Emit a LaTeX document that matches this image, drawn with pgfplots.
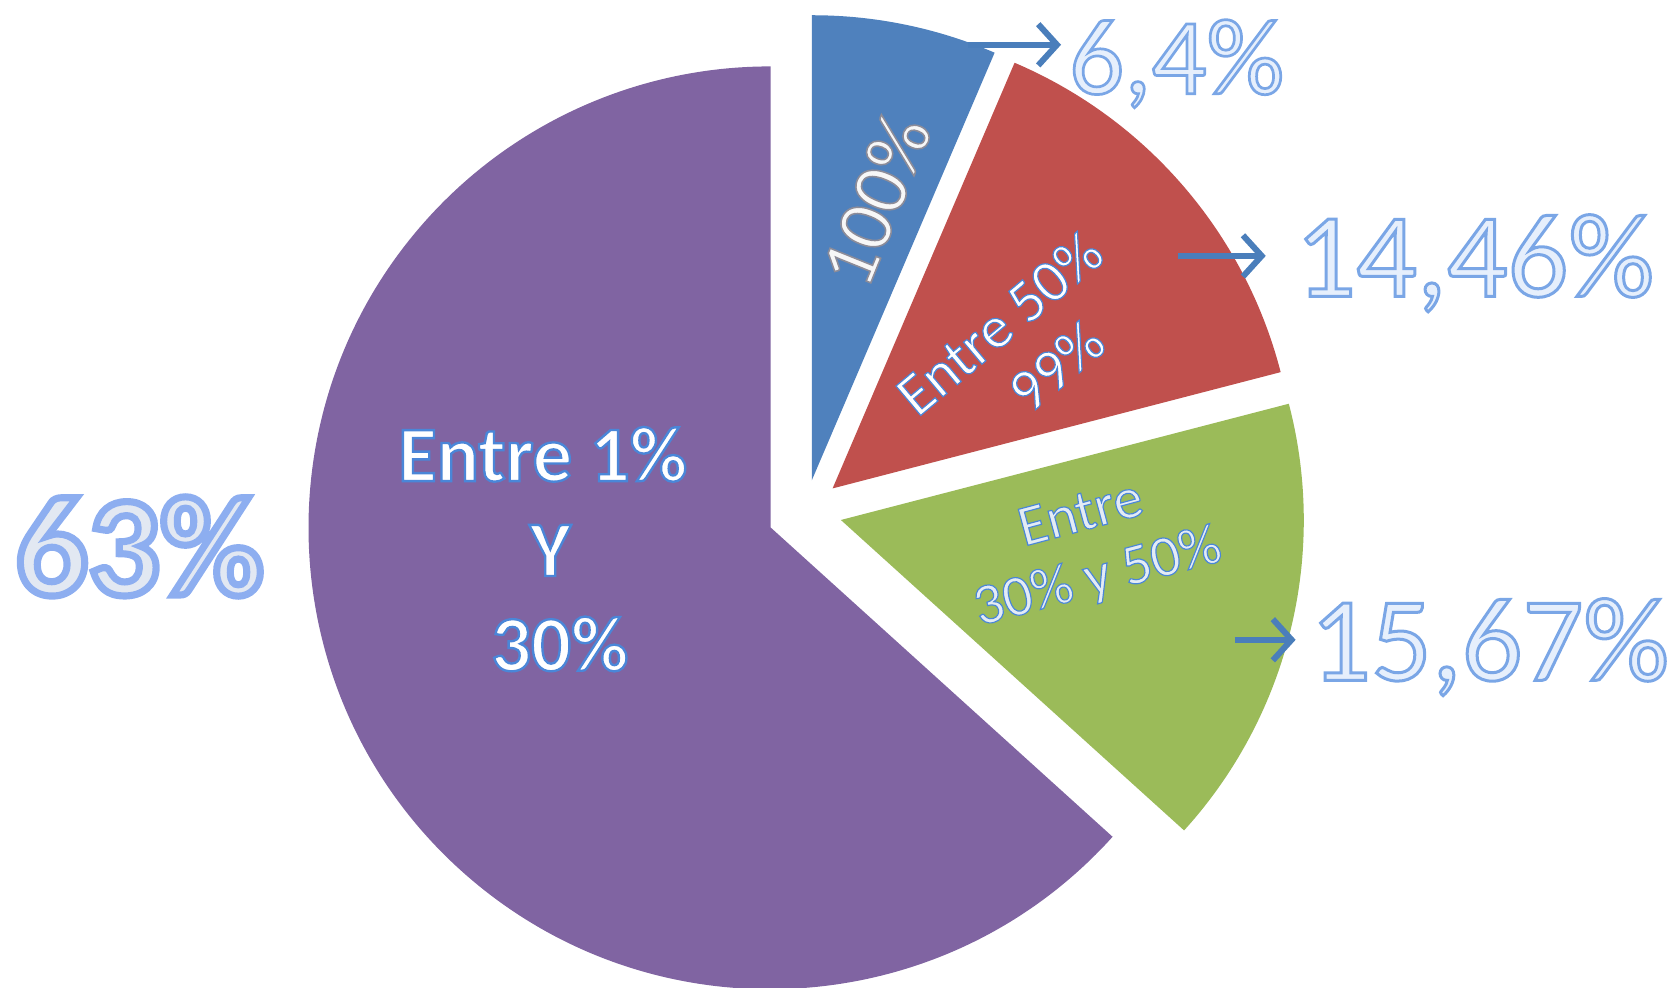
\documentclass[border=0pt]{standalone}
\usepackage{pgfplots}
\pgfplotsset{compat=1.18}
\usepackage{pgfplotstable}
\usetikzlibrary{arrows.meta}
\usepackage{fontspec}
\setmainfont{Carlito}

\definecolor{secblue}{HTML}{4F81BD}
\definecolor{secred}{HTML}{C0504D}
\definecolor{secgreen}{HTML}{9BBB59}
\definecolor{secpurple}{HTML}{8064A2}
\definecolor{arrowblue}{HTML}{4A7EBB}
\definecolor{bigfill}{HTML}{E6EFFC}
\definecolor{grfill}{HTML}{E2E8F2}

% sector: apex position (explode offset), value, cumulated value before it, colour index
\pgfplotstableread{
cx  cy  val   cum   cid
762 479 6.40  0.00  0
782 469 14.46 6.40  1
790 438 15.67 20.86 2
722 431 63.00 36.53 3
}\sectors
% degrees per percent, the four values sum to 99.53
\def\pieunit{3.617}

% outlined text: fill in the current colour, stroke in rgb #1, stroke amount #2
\newcommand\olt[3]{{\addfontfeature{FakeBold=#2}\special{pdf:code #1 RG}#3}}

\pgfplotsset{canvas/.style={
    at={(0,0)}, anchor=south west,
    scale only axis,
    width=15.68cm, height=9.26cm,
    xmin=0, xmax=1568, ymin=0, ymax=926,
    hide axis, clip=false}}

\begin{document}
\begin{tikzpicture}
\path[use as bounding box] (0,0) rectangle (15.68cm,9.26cm);
\clip (0,0) rectangle (15.68cm,9.26cm);
\begin{axis}[canvas]
\addplot[scatter, only marks, mark=*, mark size=0pt,
    visualization depends on={\thisrow{val} \as \secval},
    visualization depends on={\thisrow{cum} \as \seccum},
    visualization depends on={\thisrow{cid} \as \seccid},
    scatter/@pre marker code/.code={%
        \pgfmathsetmacro\sa{90-\seccum*\pieunit}%
        \pgfmathsetmacro\se{90-(\seccum+\secval)*\pieunit}%
        \pgfmathtruncatemacro\ci{\seccid}%
        \ifcase\ci \def\sc{secblue}\or \def\sc{secred}\or \def\sc{secgreen}\else \def\sc{secpurple}\fi
        \fill[\sc] (0,0) -- (\sa:4.32cm) arc[start angle=\sa, end angle=\se, radius=4.32cm] -- cycle;
        \scope[opacity=0]},
    scatter/@post marker code/.code={\endscope},
] table[x=cx, y=cy] {\sectors};
\end{axis}

% second, identical axis on top: arrows and label positions
\begin{axis}[canvas]
\addplot[arrowblue, line width=1.6pt, -{Straight Barb[length=5pt, width=11pt]}] coordinates {(908,884) (995,884)};
\addplot[arrowblue, line width=1.6pt, -{Straight Barb[length=5pt, width=11pt]}] coordinates {(1105,686) (1187,686)};
\addplot[arrowblue, line width=1.6pt, -{Straight Barb[length=5pt, width=11pt]}] coordinates {(1158,326) (1215,326)};

\coordinate (l63) at (axis cs:14,368);
\coordinate (l64) at (axis cs:1002,838);
\coordinate (l1446) at (axis cs:1214,648);
\coordinate (l1567) at (axis cs:1228,288);
\coordinate (pa) at (axis cs:509,411);
\coordinate (bl) at (axis cs:821,738);
\coordinate (ra) at (axis cs:958,598);
\coordinate (ga) at (axis cs:1022,412);
\end{axis}

% outer labels
\node[anchor=base west, inner sep=0, text=grfill] at (l63)
    {\fontsize{38}{40}\selectfont\bfseries\olt{0.553 0.682 0.941}{5}{63\%}};
\node[anchor=base west, inner sep=0, text=bigfill] at (l64)
    {\fontsize{29}{30}\selectfont\olt{0.478 0.651 0.902}{2.5}{6,4\%}};
\node[anchor=base west, inner sep=0, text=bigfill] at (l1446)
    {\fontsize{32}{34}\selectfont\olt{0.478 0.651 0.902}{2.5}{14,46\%}};
\node[anchor=base west, inner sep=0, text=bigfill] at (l1567)
    {\fontsize{32}{34}\selectfont\olt{0.478 0.651 0.902}{2.5}{15,67\%}};

% labels inside the sectors
\node[anchor=center, inner sep=0, text=white, align=center,
      font=\fontsize{21}{25.3}\selectfont\bfseries] at (pa)
    {\olt{0.29 0.525 0.847}{3}{Entre 1\%}\\
     \hspace*{0.14cm}\olt{0.29 0.525 0.847}{3}{Y}\\
     \hspace*{0.32cm}\olt{0.29 0.525 0.847}{3}{30\%}};
\node[rotate=68, inner sep=0, text=white!94!gray] at (bl)
    {\fontsize{21}{24}\selectfont\olt{0.55 0.55 0.6}{2}{100\%}};
\node[rotate=40, inner sep=0, text=white, align=center,
      font=\fontsize{16}{18.5}\selectfont] at (ra)
    {\olt{0.29 0.525 0.847}{2}{Entre 50\%}\\
     \hspace*{0.3cm}\olt{0.29 0.525 0.847}{2}{99\%}};
\node[rotate=15, inner sep=0, text=white!85!secblue, align=center,
      font=\fontsize{15.5}{17.4}\selectfont] at (ga)
    {\olt{0.29 0.525 0.847}{2}{Entre}\\
     \olt{0.29 0.525 0.847}{2}{30\% y 50\%}};
\end{tikzpicture}
\end{document}
